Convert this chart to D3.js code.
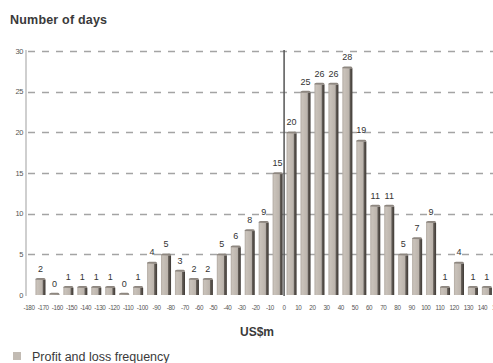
<!DOCTYPE html>
<html>
<head>
<meta charset="utf-8">
<script src="https://cdn.jsdelivr.net/npm/d3@7/dist/d3.min.js"></script>
<style>
  html, body { margin: 0; padding: 0; background: #fff; }
  svg { display: block; font-family: "Liberation Sans", Arial, Helvetica, sans-serif; }
</style>
</head>
<body>
<svg id="chart" width="493" height="363"></svg>
<script>
// Daily profit-and-loss histogram: bins of US$10m from -180 to 150
const binStarts = [-180, -170, -160, -150, -140, -130, -120, -110, -100, -90, -80, -70, -60, -50, -40, -30, -20, -10,
                   0, 10, 20, 30, 40, 50, 60, 70, 80, 90, 100, 110, 120, 130, 140];
const dayCounts = [2, 0, 1, 1, 1, 1, 0, 1, 4, 5, 3, 2, 2, 5, 6, 8, 9, 15,
                   20, 25, 26, 26, 28, 19, 11, 11, 5, 7, 9, 1, 4, 1, 1];
const xTickLabels = [-180, -170, -160, -150, -140, -130, -120, -110, -100, -90, -80, -70, -60, -50, -40, -30, -20, -10,
                     0, 10, 20, 30, 40, 50, 60, 70, 80, 90, 100, 110, 120, 130, 140, 150];
const yTicks = [0, 5, 10, 15, 20, 25, 30];
const seriesName = "Profit and loss frequency";

const svg = d3.select("#chart");

const plotLeft = 26, plotRight = 493, plotTop = 50, plotBottom = 295;

const y = d3.scaleLinear().domain([0, 30]).range([plotBottom, plotTop + 1]);

const x = d3.scaleBand()
  .domain(binStarts)
  .range([33.5, 33.5 + 13.95 * binStarts.length])
  .paddingInner(0.28)
  .paddingOuter(0.14);

// tick labels sit at the bin edges
const xEdge = d3.scaleLinear().domain([-180, 140]).range([29, 482.5]);

// gradients for the bar faces
const defs = svg.append("defs");
const grad = defs.append("linearGradient").attr("id", "barFront").attr("x1", 0).attr("x2", 1).attr("y1", 0).attr("y2", 0);
grad.append("stop").attr("offset", "0%").attr("stop-color", "#b3aba3");
grad.append("stop").attr("offset", "25%").attr("stop-color", "#c9c2ba");
grad.append("stop").attr("offset", "100%").attr("stop-color", "#bbb3ab");
const gradSide = defs.append("linearGradient").attr("id", "barSide").attr("x1", 0).attr("x2", 1).attr("y1", 0).attr("y2", 0);
gradSide.append("stop").attr("offset", "0%").attr("stop-color", "#6e6760");
gradSide.append("stop").attr("offset", "100%").attr("stop-color", "#3e3935");

// title
svg.append("text")
  .attr("x", 10).attr("y", 24)
  .attr("font-size", 12.5).attr("font-weight", "bold").attr("fill", "#3a3a3a")
  .attr("letter-spacing", 0.2)
  .text("Number of days");

// y axis line
svg.append("line")
  .attr("x1", plotLeft).attr("x2", plotLeft)
  .attr("y1", plotTop).attr("y2", plotBottom + 1)
  .attr("stroke", "#cfcfcf").attr("stroke-width", 2);

// dashed gridlines
svg.append("g").selectAll("line")
  .data(yTicks.filter(d => d > 0))
  .join("line")
  .attr("x1", plotLeft).attr("x2", plotRight)
  .attr("y1", d => Math.round(y(d)) + 0.5).attr("y2", d => Math.round(y(d)) + 0.5)
  .attr("stroke", "#a4a4a4").attr("stroke-width", 1.3)
  .attr("stroke-dasharray", "7,7").attr("stroke-dashoffset", -2);

// y tick labels
svg.append("g").selectAll("text")
  .data(yTicks)
  .join("text")
  .attr("x", 23).attr("y", d => y(d) + 2.5)
  .attr("text-anchor", "end")
  .attr("font-size", 7.5).attr("fill", "#555")
  .attr("letter-spacing", -0.4)
  .text(d => d);

// bars: front face, darker side, shaded cap
const bw = x.bandwidth();
const sideW = bw * 0.3;
const frontW = bw - sideW;
const bars = svg.append("g").selectAll("g")
  .data(binStarts.map((b, i) => ({ bin: b, count: dayCounts[i] })))
  .join("g");

const barTop = d => Math.min(y(d.count), plotBottom - 1.5);

bars.append("rect")
  .attr("x", d => x(d.bin))
  .attr("y", d => barTop(d))
  .attr("width", frontW)
  .attr("height", d => plotBottom - barTop(d))
  .attr("fill", "url(#barFront)");

bars.append("rect")
  .attr("x", d => x(d.bin) + frontW)
  .attr("y", d => barTop(d) + 1)
  .attr("width", sideW)
  .attr("height", d => Math.max(0, plotBottom - barTop(d) - 1))
  .attr("fill", "url(#barSide)");

bars.append("path")
  .attr("d", d => {
    const x0 = x(d.bin), t = barTop(d);
    return `M${x0},${t + 1} Q${x0},${t - 0.8} ${x0 + 2},${t - 0.8} L${x0 + bw - 1.5},${t - 0.8} Q${x0 + bw},${t - 0.8} ${x0 + bw},${t + 1.2} Z`;
  })
  .attr("fill", "#8e8780");

// value labels
bars.append("text")
  .attr("x", d => x(d.bin) + bw / 2)
  .attr("y", d => barTop(d) - 7)
  .attr("text-anchor", "middle")
  .attr("font-size", 9).attr("fill", "#333")
  .text(d => d.count);

// zero reference line
svg.append("line")
  .attr("x1", xEdge(0)).attr("x2", xEdge(0))
  .attr("y1", plotTop).attr("y2", plotBottom + 1)
  .attr("stroke", "#555").attr("stroke-width", 1.5);

// x tick labels
svg.append("g").selectAll("text")
  .data(xTickLabels)
  .join("text")
  .attr("x", d => xEdge(d))
  .attr("y", 310)
  .attr("text-anchor", "middle")
  .attr("font-size", 6.3).attr("fill", "#555")
  .attr("letter-spacing", -0.4)
  .text(d => d);

// x axis title
svg.append("text")
  .attr("x", 257).attr("y", 336)
  .attr("text-anchor", "middle")
  .attr("font-size", 12).attr("font-weight", "bold").attr("fill", "#3a3a3a")
  .text("US$m");

// legend
svg.append("rect")
  .attr("x", 13).attr("y", 352).attr("width", 8).attr("height", 8)
  .attr("fill", "#c2bbb3");
svg.append("text")
  .attr("x", 32).attr("y", 361)
  .attr("font-size", 12.5).attr("fill", "#3a3a3a")
  .text(seriesName);
</script>
</body>
</html>
